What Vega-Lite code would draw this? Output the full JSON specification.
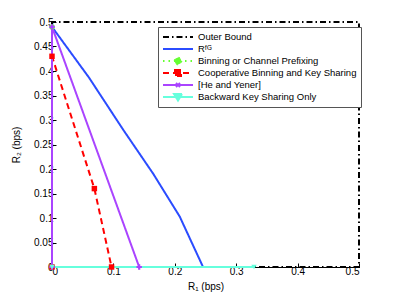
{
  "$schema": "https://vega.github.io/schema/vega-lite/v6.json",
  "autosize": {"type": "none"},
  "padding": {"left": 52, "top": 22, "right": 40, "bottom": 33},
  "width": 307,
  "height": 245,
  "background": "white",
  "config": {
    "view": {"stroke": null},
    "font": "Liberation Sans",
    "axis": {"labelFont": "Liberation Sans", "labelFontSize": 10, "labelColor": "black", "titleFont": "Liberation Sans", "titleFontSize": 10, "titleFontWeight": "normal", "titleColor": "black", "domainColor": "black", "tickColor": "black", "grid": false}
  },
  "data": {"values": [
    {"series": "Outer Bound", "o": 1, "x": 0, "y": 0},
    {"series": "Outer Bound", "o": 2, "x": 0, "y": 0.5},
    {"series": "Outer Bound", "o": 3, "x": 0.5, "y": 0.5},
    {"series": "Outer Bound", "o": 4, "x": 0.5, "y": 0},
    {"series": "Outer Bound", "o": 5, "x": 0, "y": 0},
    {"series": "RFG", "o": 1, "x": 0, "y": 0.49},
    {"series": "RFG", "o": 2, "x": 0.06, "y": 0.387},
    {"series": "RFG", "o": 3, "x": 0.116, "y": 0.28},
    {"series": "RFG", "o": 4, "x": 0.165, "y": 0.19},
    {"series": "RFG", "o": 5, "x": 0.208, "y": 0.103},
    {"series": "RFG", "o": 6, "x": 0.246, "y": 0},
    {"series": "Binning or Channel Prefixing", "o": 1, "x": 0, "y": 0},
    {"series": "Binning or Channel Prefixing", "o": 2, "x": 0, "y": 0.49},
    {"series": "Cooperative Binning and Key Sharing", "o": 1, "x": 0, "y": 0},
    {"series": "Cooperative Binning and Key Sharing", "o": 2, "x": 0, "y": 0.43},
    {"series": "Cooperative Binning and Key Sharing", "o": 3, "x": 0.069, "y": 0.16},
    {"series": "Cooperative Binning and Key Sharing", "o": 4, "x": 0.097, "y": 0},
    {"series": "[He and Yener]", "o": 1, "x": 0, "y": 0},
    {"series": "[He and Yener]", "o": 2, "x": 0, "y": 0.49},
    {"series": "[He and Yener]", "o": 3, "x": 0.142, "y": 0},
    {"series": "Backward Key Sharing Only", "o": 1, "x": 0, "y": 0},
    {"series": "Backward Key Sharing Only", "o": 2, "x": 0.329, "y": 0}
  ]},
  "encoding": {
    "x": {"field": "x", "type": "quantitative", "scale": {"domain": [0, 0.5], "nice": false}, "axis": {"title": "R₁ (bps)", "values": [0, 0.1, 0.2, 0.3, 0.4, 0.5], "format": "~g", "tickSize": -4, "labelPadding": 3, "titlePadding": 5}},
    "y": {"field": "y", "type": "quantitative", "scale": {"domain": [0, 0.5], "nice": false}, "axis": {"title": "R₂ (bps)", "values": [0, 0.05, 0.1, 0.15, 0.2, 0.25, 0.3, 0.35, 0.4, 0.45, 0.5], "format": "~g", "tickSize": -4, "labelPadding": 3, "titlePadding": 12}},
    "color": {"field": "series", "type": "nominal", "scale": {"domain": ["Outer Bound", "RFG", "Binning or Channel Prefixing", "Cooperative Binning and Key Sharing", "[He and Yener]", "Backward Key Sharing Only"], "range": ["#000000", "#2b4cff", "#66ff33", "#ff0000", "#aa44ff", "#66ffdd"]}}
  },
  "layer": [
    {
      "mark": {"type": "line", "strokeWidth": 2},
      "encoding": {
        "order": {"field": "o", "type": "quantitative"},
        "strokeDash": {"field": "series", "type": "nominal", "scale": {"domain": ["Outer Bound", "RFG", "Binning or Channel Prefixing", "Cooperative Binning and Key Sharing", "[He and Yener]", "Backward Key Sharing Only"], "range": [[6, 3, 1.5, 3], [1, 0], [1.5, 4], [6, 4], [1, 0], [1, 0]]}},
        "color": {"field": "series", "type": "nominal", "legend": {
          "orient": "none", "legendX": 106, "legendY": 5, "title": null,
          "padding": 4, "strokeColor": "#555555", "fillColor": "white",
          "labelFont": "Liberation Sans", "labelFontSize": 9.5, "labelColor": "black", "labelLimit": 400,
          "symbolType": "stroke", "symbolSize": 100, "symbolStrokeWidth": 2, "rowPadding": 0, "clipHeight": 12, "labelOffset": 14, "symbolOffset": 10,
          "labelExpr": "datum.value === 'RFG' ? 'Rᶠᴳ' : datum.label",
          "encode": {"symbols": {"update": {
            "shape": {"signal": "datum.value === 'Binning or Channel Prefixing' ? 'M-3,0H3M0.7,0L0.5,0.5L0,0.7L-0.5,0.5L-0.7,0L-0.5,-0.5L0,-0.7L0.5,-0.5Z' : datum.value === 'Cooperative Binning and Key Sharing' ? 'M-3,0H3M-0.6,-0.6H0.6V0.6H-0.6Z' : datum.value === '[He and Yener]' ? 'M-3,0H3M-0.4,-0.4L0.4,0.4M-0.4,0.4L0.4,-0.4' : datum.value === 'Backward Key Sharing Only' ? 'M-3,0H3M-0.8,-0.6H0.8L0,0.7Z' : 'M-3,0H3'"},
            "fill": {"scale": "color", "field": "value"}
          }}}
        }}
      }
    },
    {
      "transform": [{"filter": "datum.series !== 'Outer Bound' && datum.series !== 'RFG'"}],
      "mark": {"type": "point", "filled": true, "opacity": 1, "size": 30},
      "encoding": {
        "shape": {"field": "series", "type": "nominal", "legend": null, "scale": {"domain": ["Binning or Channel Prefixing", "Cooperative Binning and Key Sharing", "[He and Yener]", "Backward Key Sharing Only"], "range": ["circle", "square", "cross", "triangle-down"]}},
        "color": {"field": "series", "type": "nominal", "legend": null}
      }
    }
  ]
}
